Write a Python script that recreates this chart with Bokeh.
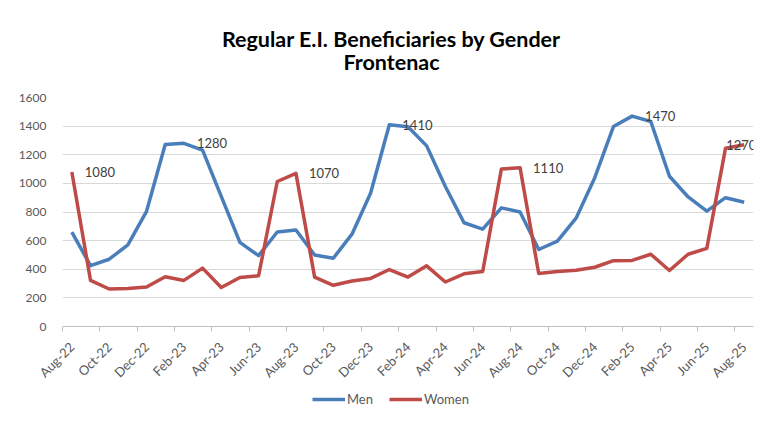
from math import pi
from bokeh.plotting import figure
from bokeh.layouts import column
from bokeh.core.properties import value
from bokeh.models import (ColumnDataSource, FixedTicker, Legend, LegendItem,
                          LabelSet, Label, Range1d)
from bokeh.embed import file_html
from bokeh.resources import INLINE

months = ["Aug-22", "Sep-22", "Oct-22", "Nov-22", "Dec-22", "Jan-23", "Feb-23",
          "Mar-23", "Apr-23", "May-23", "Jun-23", "Jul-23", "Aug-23", "Sep-23",
          "Oct-23", "Nov-23", "Dec-23", "Jan-24", "Feb-24", "Mar-24", "Apr-24",
          "May-24", "Jun-24", "Jul-24", "Aug-24", "Sep-24", "Oct-24", "Nov-24",
          "Dec-24", "Jan-25", "Feb-25", "Mar-25", "Apr-25", "May-25", "Jun-25",
          "Jul-25", "Aug-25"]
men = [660, 425, 470, 570, 805, 1272, 1280, 1232, 909, 588, 495, 660, 674,
       500, 477, 645, 933, 1410, 1395, 1262, 978, 725, 680, 829, 800, 538,
       597, 757, 1040, 1397, 1470, 1432, 1050, 905, 806, 900, 868]
women = [1080, 322, 262, 265, 276, 348, 322, 408, 272, 342, 355, 1013, 1070,
         345, 288, 318, 336, 398, 345, 424, 311, 368, 384, 1100, 1110, 370,
         384, 393, 414, 460, 462, 505, 391, 505, 546, 1245, 1270]
y_ticks = [0, 200, 400, 600, 800, 1000, 1200, 1400, 1600]
label_months = ["Aug-22", "Feb-23", "Aug-23", "Jan-24", "Aug-24", "Feb-25", "Aug-25"]
label_values = [1080, 1280, 1070, 1410, 1110, 1470, 1270]
series_names = ["Men", "Women"]

title_line1 = "Regular E.I. Beneficiaries by Gender"
title_line2 = "Frontenac"

BLUE = "#4A7EBB"
RED = "#BE4B48"
FONT = "Lato"
W = 760
LEFT = 62   # frames of the stacked figures are aligned at this offset


def bare(height):
    f = figure(width=W, height=height, output_backend="svg", toolbar_location=None,
               title=None, x_axis_location=None, y_axis_location=None,
               x_range=Range1d(0, W), y_range=Range1d(0, height),
               min_border=0)
    f.outline_line_color = None
    f.xgrid.visible = False
    f.ygrid.visible = False
    f.background_fill_color = "white"
    f.border_fill_color = "white"
    return f


# ---------- title strip ----------
pt = bare(85)
for txt, yy in ((title_line1, 47), (title_line2, 24)):
    pt.add_layout(Label(x=391 - LEFT, y=yy, x_units="screen", y_units="screen", text=txt,
                        text_font=FONT, text_font_size="21.5px", text_font_style="bold",
                        text_color="#000000", text_align="center",
                        text_baseline="middle"))

# ---------- main chart ----------
n = len(months)
xs = list(range(n))
src = ColumnDataSource(dict(x=xs, men=men, women=women))

lab_x = [months.index(m) for m in label_months]
lab_off = [13 if i < n - 1 else -18 for i in lab_x]
lab_src = ColumnDataSource(dict(x=lab_x, y=label_values,
                                t=[str(v) for v in label_values], off=lab_off))

p = figure(width=W, height=303, output_backend="svg", toolbar_location=None,
           title=None, x_range=Range1d(-0.5, n - 0.5), y_range=Range1d(0, 1600),
           min_border_left=LEFT, min_border_right=7, min_border_top=12,
           min_border_bottom=60)
p.outline_line_color = None
p.background_fill_color = "white"
p.border_fill_color = "white"

p.line("x", "men", source=src, line_color=BLUE, line_width=3.5, line_join="round")
p.line("x", "women", source=src, line_color=RED, line_width=3.5, line_join="round")

xa = p.xaxis[0]
major = xs[::2]
xa.ticker = FixedTicker(ticks=major, minor_ticks=[i - 0.5 for i in major])
xa.major_label_overrides = {i: months[i] for i in major}
xa.major_label_orientation = pi / 4
xa.major_tick_out = 0
xa.major_tick_in = 0
xa.minor_tick_out = 5
xa.minor_tick_in = 0
xa.minor_tick_line_color = "#bfbfbf"
xa.axis_line_color = "#bfbfbf"
xa.major_label_text_font = FONT
xa.major_label_text_font_size = "13px"
xa.major_label_text_color = "#595959"
xa.major_label_standoff = 13

ya = p.yaxis[0]
ya.ticker = FixedTicker(ticks=y_ticks)
ya.axis_line_color = None
ya.major_tick_line_color = None
ya.minor_tick_line_color = None
ya.major_label_text_font = FONT
ya.major_label_text_font_size = "12px"
ya.major_label_text_color = "#595959"
ya.major_label_standoff = 10

p.xgrid.visible = False
p.ygrid.grid_line_color = "#d9d9d9"
p.ygrid.grid_line_width = 1

labels = LabelSet(x="x", y="y", text="t", x_offset="off", source=lab_src,
                  text_font=value(FONT), text_font_size="13px", text_color="#404040",
                  text_baseline="middle", text_align="left")
p.add_layout(labels)

# ---------- legend strip ----------
pl = bare(22)
nan = float("nan")
lr_men = pl.line(x=[nan], y=[nan], line_color=BLUE, line_width=3.5)
lr_women = pl.line(x=[nan], y=[nan], line_color=RED, line_width=3.5)
legend = Legend(items=[LegendItem(label=series_names[0], renderers=[lr_men]),
                       LegendItem(label=series_names[1], renderers=[lr_women])],
                orientation="horizontal", location=(312 - LEFT, 3),
                glyph_width=33, glyph_height=16, label_height=16,
                label_standoff=2, spacing=16,
                padding=0, margin=0, border_line_color=None,
                background_fill_alpha=0, label_text_font=FONT,
                label_text_font_size="13px", label_text_color="#595959")
pl.add_layout(legend, "center")

layout = column(pt, p, pl, spacing=0)
open("out.html", "w").write(file_html(layout, INLINE))
